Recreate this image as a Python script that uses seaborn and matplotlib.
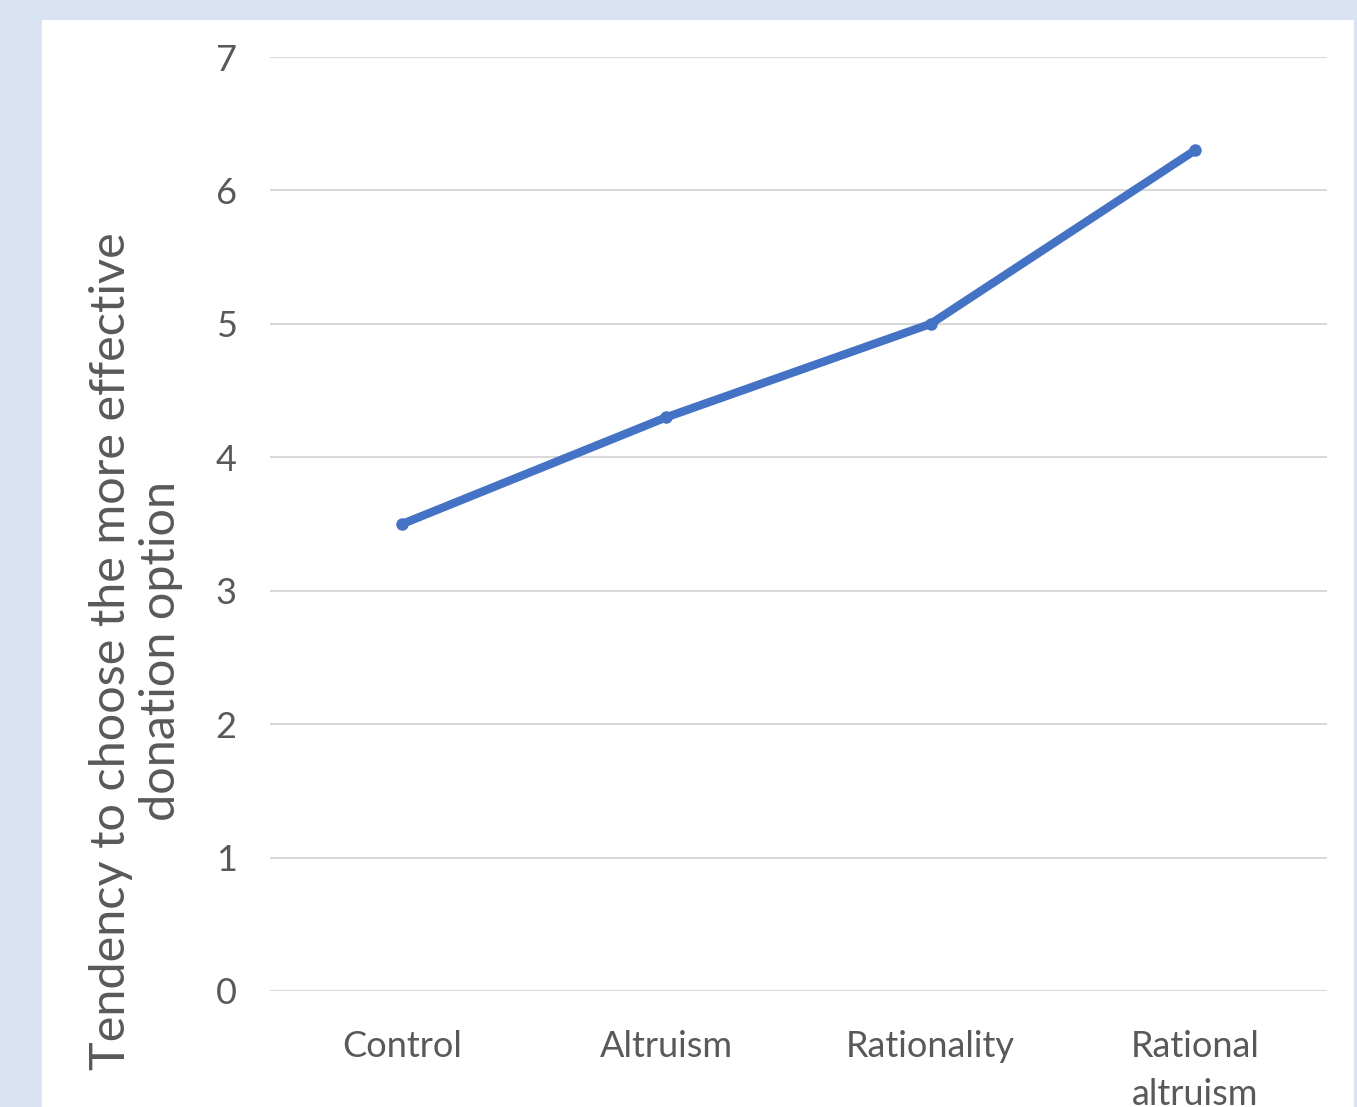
import numpy as np
import pandas as pd
import seaborn as sns
import matplotlib.pyplot as plt
from matplotlib.patches import Rectangle

# data
groups = ['Control', 'Altruism', 'Rationality', 'Rational\naltruism']
tendency = [3.5, 4.3, 5.0, 6.3]
y_ticks = [0, 1, 2, 3, 4, 5, 6, 7]

df = pd.DataFrame({'group': groups, 'tendency': tendency})

sns.set_style('white')
plt.rcParams['font.family'] = ['Lato', 'DejaVu Sans']

W, H = 1357, 1107
fig = plt.figure(figsize=(W / 100, H / 100), dpi=100)
fig.patch.set_facecolor('#dae3f3')
# white chart area
fig.patches.append(Rectangle((42 / W, 0), (1354 - 42) / W, (H - 20) / H,
                             transform=fig.transFigure, facecolor='white',
                             edgecolor='none', zorder=-10))

ax = fig.add_axes([270 / W, 1 - 991 / H, (1327 - 270) / W, (991 - 57) / H])
ax.set_facecolor('none')

sns.lineplot(data=df, x='group', y='tendency', sort=False, ax=ax,
             color='#4472c4', linewidth=6, marker='o', markersize=9,
             markeredgewidth=0, solid_capstyle='round')

ax.set_xlim(-0.5, 3.5)
ax.set_ylim(0, 7)
ax.set_yticks(y_ticks)
ax.yaxis.grid(True, color='#d9d9d9', linewidth=1.5)
ax.set_axisbelow(True)
for s in ax.spines.values():
    s.set_visible(False)
ax.tick_params(axis='both', length=0, labelsize=26, labelcolor='#595959')
ax.tick_params(axis='y', pad=24)
ax.tick_params(axis='x', pad=28)
for lbl in ax.get_xticklabels():
    lbl.set_linespacing(1.55)
ax.set_xlabel('')
ax.set_ylabel('')

fig.text(136 / W, 1 - 651 / H,
         'Tendency to choose the more effective\ndonation option',
         rotation=90, ha='center', va='center', fontsize=35,
         color='#595959', linespacing=1.15)

fig.savefig('out.png', dpi=100, facecolor=fig.get_facecolor())
